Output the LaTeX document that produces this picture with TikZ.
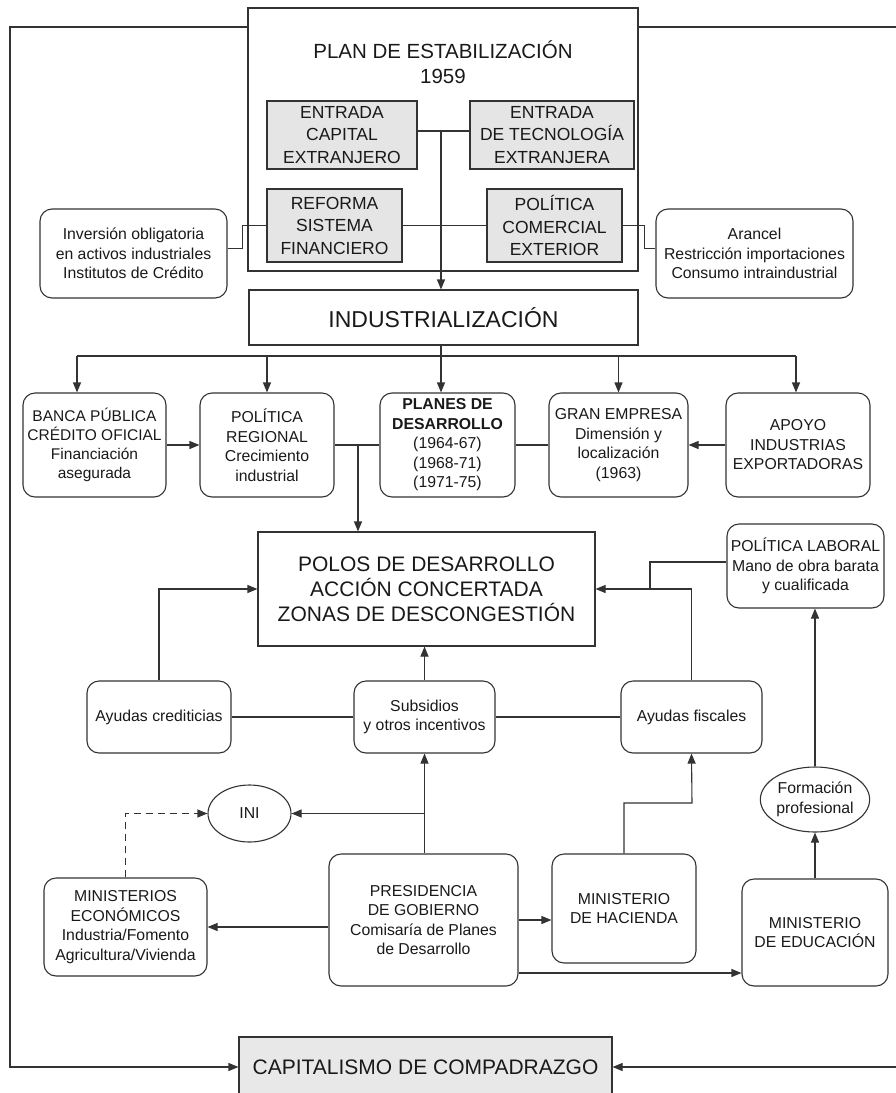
\documentclass[tikz,border=0pt]{standalone}
\usepackage{fontspec}
\setmainfont{Liberation Sans}
\usepackage{tikz}
\usetikzlibrary{arrows.meta}
\usetikzlibrary{shapes.geometric}

\begin{document}
\begin{tikzpicture}[x=1pt, y=-1pt, line width=1.1pt, color=black!80,
    every node/.style={align=center, text=black!90, inner sep=0pt},
    caja/.style={draw, rounded corners=12pt, font=\fontsize{15.8}{19.5}\selectfont},
    cajagris/.style={draw, fill=black!10, font=\fontsize{17.5}{22.5}\selectfont},
    recuadro/.style={draw, font=\fontsize{21}{25}\selectfont},
    ovalo/.style={draw, ellipse, font=\fontsize{15.8}{19.5}\selectfont},
    flecha/.style={-{Triangle[length=10pt, width=8pt]}}]
    \useasboundingbox (0,0) rectangle (895,1093);

    \node[draw, minimum width=390pt, minimum height=263pt] (plan) at (443,139.5) {};
    \node[font=\fontsize{20.5}{25}\selectfont] (plantit) at (443,62.5) {PLAN DE ESTABILIZACIÓN\\1959};

        \node[cajagris, minimum width=150pt, minimum height=68pt] (capital) at (342,135) {ENTRADA\\CAPITAL\\EXTRANJERO};
        \node[cajagris, minimum width=164pt, minimum height=68pt] (tecno) at (552,135) {ENTRADA\\DE TECNOLOGÍA\\EXTRANJERA};
        \node[cajagris, minimum width=135pt, minimum height=73pt] (reforma) at (334.5,225.5) {REFORMA\\SISTEMA\\FINANCIERO};
        \node[cajagris, minimum width=135pt, minimum height=73pt] (comercial) at (554.5,225.5) {POLÍTICA\\COMERCIAL\\EXTERIOR};

        \node[caja, minimum width=187pt, minimum height=89pt] (inversion) at (133.5,253.5) {Inversión obligatoria\\en activos industriales\\Institutos de Crédito};
        \node[caja, minimum width=197pt, minimum height=89pt] (arancel) at (754.5,253.5) {Arancel\\Restricción importaciones\\Consumo intraindustrial};

    \node[recuadro, minimum width=389pt, minimum height=55pt, font=\fontsize{23}{27}\selectfont] (indus) at (443.5,317.5) {INDUSTRIALIZACIÓN};

        \node[caja, minimum width=143pt, minimum height=104pt, font=\fontsize{15.5}{19}\selectfont] (banca) at (94.5,445) {BANCA PÚBLICA\\CRÉDITO OFICIAL\\Financiación\\asegurada};
        \node[caja, minimum width=134pt, minimum height=104pt] (regional) at (267,445) {POLÍTICA\\REGIONAL\\Crecimiento\\industrial};
        \node[caja, minimum width=135pt, minimum height=104pt] (planes) at (447.5,445) {\textbf{PLANES DE}\\\textbf{DESARROLLO}\\(1964-67)\\(1968-71)\\(1971-75)};
        \node[caja, minimum width=139pt, minimum height=104pt] (empresa) at (618.5,445) {GRAN EMPRESA\\Dimensión y\\localización\\(1963)};
        \node[caja, minimum width=144pt, minimum height=104pt] (apoyo) at (798,445) {APOYO\\INDUSTRIAS\\EXPORTADORAS};

    \node[recuadro, minimum width=337pt, minimum height=114pt] (polos) at (426.5,589) {POLOS DE DESARROLLO\\ACCIÓN CONCERTADA\\ZONAS DE DESCONGESTIÓN};
        \node[caja, minimum width=157pt, minimum height=84pt] (laboral) at (805.5,566) {POLÍTICA LABORAL\\Mano de obra barata\\y cualificada};

        \node[caja, minimum width=144pt, minimum height=72pt] (crediticias) at (159,717) {Ayudas crediticias};
        \node[caja, minimum width=141pt, minimum height=72pt] (subsidios) at (424.5,717) {Subsidios\\y otros incentivos};
        \node[caja, minimum width=141pt, minimum height=72pt] (fiscales) at (691.5,717) {Ayudas fiscales};

        \node[ovalo, minimum width=83pt, minimum height=57pt] (ini) at (249.5,813.5) {INI};
        \node[ovalo, minimum width=101pt, minimum height=65pt] (formacion) at (815,799.5) {Formación\\profesional};

        \node[caja, minimum width=163pt, minimum height=98pt] (ministerios) at (125.5,927) {MINISTERIOS\\ECONÓMICOS\\Industria/Fomento\\Agricultura/Vivienda};
        \node[caja, minimum width=189pt, minimum height=132pt] (presidencia) at (423.5,920) {PRESIDENCIA\\DE GOBIERNO\\Comisaría de Planes\\de Desarrollo};
        \node[caja, minimum width=144pt, minimum height=109pt] (hacienda) at (624,908.5) {MINISTERIO\\DE HACIENDA};
        \node[caja, minimum width=146pt, minimum height=107pt] (educacion) at (815,932.5) {MINISTERIO\\DE EDUCACIÓN};

    \node[recuadro, fill=black!9, minimum width=373pt, minimum height=60pt] (capitalismo) at (425.5,1067) {CAPITALISMO DE COMPADRAZGO};

        \coordinate (cruce) at (441,131);
        \coordinate (ramaI) at (77,356);
        \coordinate (ramaD) at (796,356);
        \coordinate (baja) at (358,445);
        \coordinate (union) at (650,589);
        \coordinate (codo) at (692,803);
        \coordinate (esqI) at (10,27);
        \coordinate (esqD) at (899,27);

        % plan de estabilizacion
        \draw ([yshift=4pt]capital.east) -- ([yshift=4pt]tecno.west);
        \draw (reforma) -- (comercial);
        \draw[flecha] (cruce) -- (cruce |- indus.north);
        \draw (reforma.west) -- ++(-24,0) |- ([yshift=5pt]inversion.east);
        \draw (comercial.east) -- ++(22,0) |- ([yshift=5pt]arancel.west);

        % industrializacion
        \draw (ramaI) -- (ramaD);
        \draw[flecha] (cruce |- indus.south) -- (cruce |- planes.north);
        \draw[flecha] (ramaI) -- (ramaI |- banca.north);
        \draw[flecha] (regional.north |- ramaI) -- (regional.north);
        \draw[flecha] (empresa.north |- ramaI) -- (empresa.north);
        \draw[flecha] (ramaD) -- (ramaD |- apoyo.north);
        \draw[flecha] (banca) -- (regional);
        \draw (regional) -- (planes);
        \draw (planes) -- (empresa);
        \draw[flecha] (apoyo) -- (empresa);
        \draw[flecha] (baja) -- (baja |- polos.north);

        % polos
        \draw[flecha] (crediticias.north) |- (polos.west);
        \draw[flecha] (fiscales.north) |- (polos.east);
        \draw ([yshift=4pt]laboral.west) -| (union);
        \draw[flecha] (subsidios.north) -- (subsidios.north |- polos.south);
        \draw (crediticias) -- (subsidios);
        \draw (subsidios) -- (fiscales);

        % organismos
        \draw[flecha] (subsidios.south |- presidencia.north) -- (subsidios.south);
        \draw[flecha] (subsidios.south |- ini) -- (ini.east);
        \draw[flecha, dashed, dash pattern=on 7pt off 5pt] (ministerios.north) |- (ini.west);
        \draw[flecha] (hacienda.north) |- (codo) -- (fiscales.south);
        \draw[flecha] (educacion.north) -- (formacion.south);
        \draw[flecha] (formacion.north) -- (formacion.north |- laboral.south);
        \draw[flecha] (presidencia.west |- ministerios) -- (ministerios.east);
        \draw[flecha] (presidencia.east) -- (presidencia.east -| hacienda.west);
        \draw[flecha] ([yshift=-53pt]presidencia.east) -- ([yshift=-53pt]presidencia.east -| educacion.west);

        % marco exterior
        \draw[flecha] (esqI -| plan.west) -- (esqI) |- (capitalismo.west);
        \draw[flecha] (esqD -| plan.east) -- (esqD) |- (capitalismo.east);

    \end{tikzpicture}
\end{document}
